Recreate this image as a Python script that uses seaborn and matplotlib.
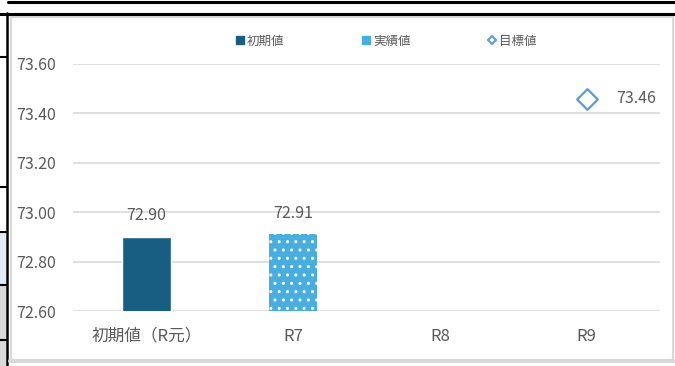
import matplotlib
matplotlib.use("Agg")
import matplotlib.pyplot as plt
import matplotlib.patches as mpatches
from matplotlib.lines import Line2D
import pandas as pd
import seaborn as sns

# data
categories = ["初期値（R元）", "R7", "R8", "R9"]
initial_cat = ["初期値（R元）"]
initial_val = [72.90]
actual_cat = ["R7"]
actual_val = [72.91]
target_cat = ["R9"]
target_val = [73.46]
y_ticks = [72.60, 72.80, 73.00, 73.20, 73.40, 73.60]
legend_labels = ["初期値", "実績値", "目標値"]

c_initial = "#185E82"
c_actual = "#48AEE0"
c_target = "#5B9BD5"
c_text = "#595959"
c_grid = "#D9D9D9"

sns.set_style("white")
plt.rcParams["font.family"] = ["Noto Sans CJK JP", "DejaVu Sans"]

fig = plt.figure(figsize=(6.75, 3.66), dpi=100)

# surrounding spreadsheet bits (pixel coords)
deco = fig.add_axes([0, 0, 1, 1], zorder=-1)
deco.set_xlim(0, 675)
deco.set_ylim(366, 0)
deco.axis("off")
deco.add_patch(mpatches.Rectangle((0, 232), 6, 53, color="#DDEBF7", lw=0))
deco.add_patch(mpatches.Rectangle((0, 285), 6, 81, color="#D9D9D9", lw=0))
deco.plot([8, 675], [1.5, 1.5], color="black", lw=2.2)
deco.plot([0, 675], [13.5, 13.5], color="black", lw=2.2)
deco.plot([7, 7], [13, 366], color="black", lw=1.8)
for yy in [57, 187, 232, 285, 340]:
    deco.plot([0, 7], [yy, yy], color="black", lw=1.5)
deco.add_patch(mpatches.Rectangle((10.5, 17), 662, 343, fill=False,
                                  edgecolor=c_grid, lw=1.5))
deco.plot([10, 674], [360.5, 360.5], color=c_grid, lw=3)

ax = fig.add_axes([73 / 675, 1 - 311 / 366, 587 / 675, 247 / 366])

df_init = pd.DataFrame({"cat": initial_cat, "val": initial_val})
df_act = pd.DataFrame({"cat": actual_cat, "val": actual_val})
df_tgt = pd.DataFrame({"cat": target_cat, "val": target_val})

sns.barplot(data=df_init, x="cat", y="val", order=categories, color=c_initial,
            width=0.33, saturation=1, ax=ax, zorder=3)
n_before = len(ax.patches)
sns.barplot(data=df_act, x="cat", y="val", order=categories, color=c_actual,
            width=0.33, saturation=1, ax=ax, zorder=3)
for p in ax.patches[n_before:]:
    p.set_hatch("..")
    p.set_edgecolor("white")
    p.set_linewidth(0)

sns.stripplot(data=df_tgt, x="cat", y="val", order=categories, jitter=False,
              marker="D", size=10.5, color="white", edgecolor=c_target,
              linewidth=1.6, ax=ax, zorder=4)

for cont in ax.containers:
    ax.bar_label(cont, fmt="%.2f", padding=9, fontsize=11.5, color=c_text)
for cat, val in zip(target_cat, target_val):
    ax.annotate(f"{val:.2f}", xy=(categories.index(cat), val),
                xytext=(21, 0), textcoords="offset points",
                ha="left", va="center", fontsize=11.5, color=c_text)

ax.set_ylim(72.60, 73.60)
ax.set_xlim(-0.5, 3.5)
ax.set_yticks(y_ticks)
ax.set_yticklabels([f"{v:.2f}" for v in y_ticks])
ax.yaxis.grid(True, color=c_grid, lw=1.2, zorder=0)
ax.set_axisbelow(True)
ax.set_xlabel("")
ax.set_ylabel("")
ax.tick_params(axis="both", length=0, labelsize=11.5, labelcolor=c_text)
ax.tick_params(axis="x", labelsize=12)
ax.tick_params(axis="y", pad=12)
ax.tick_params(axis="x", pad=12)
for s in ax.spines.values():
    s.set_visible(False)
ax.set_facecolor("none")

handles = [
    Line2D([], [], ls="none", marker="s", ms=5.5, color=c_initial),
    Line2D([], [], ls="none", marker="s", ms=5.5, color=c_actual),
    Line2D([], [], ls="none", marker="D", ms=4.5, mfc="white", mec=c_target, mew=1.5),
]
fig.legend(handles, legend_labels, loc="center", bbox_to_anchor=(386 / 675, 1 - 41 / 366),
           ncol=3, frameon=False, fontsize=9, labelcolor=c_text,
           handlelength=0.7, handleheight=0.7, handletextpad=0.2, columnspacing=6.2)

fig.savefig("out.png", dpi=100)
